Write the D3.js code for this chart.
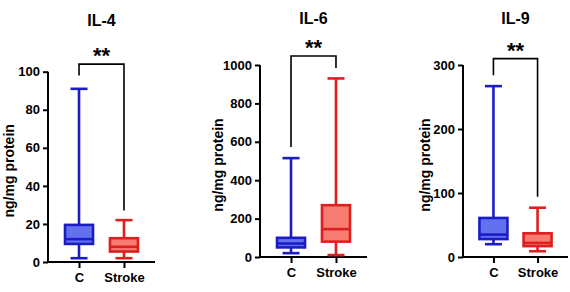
<!DOCTYPE html>
<html>
<head>
<meta charset="utf-8">
<title>IL box plots</title>
<script src="https://d3js.org/d3.v7.min.js"></script>
<style>
    body { margin: 0; background: #fff; }
    text { font-family: "Liberation Sans", Arial, sans-serif; font-weight: bold; fill: #000; }
    .axis path, .axis line { stroke: #000; stroke-width: 2px; }
    .axis text { font-size: 13px; }
</style>
</head>
<body>
<script>
    let width = 570;
    let height = 292;

    // categories and per-panel settings
    let groups = ["C", "Stroke"];
    let titles = ["IL-4", "IL-6", "IL-9"];
    let yMax = [100, 1000, 300];
    let yTicks = [
        [0, 20, 40, 60, 80, 100],
        [0, 200, 400, 600, 800, 1000],
        [0, 100, 200, 300]
    ];

    // box stats: [min, q1, median, q3, max] for C, Stroke
    let il4 = [[2, 9.5, 12, 19.5, 91], [2, 5.5, 8, 12.5, 22]];
    let il6 = [[20, 50, 70, 100, 515], [10, 80, 145, 270, 930]];
    let il9 = [[20, 28, 35, 61, 267], [9, 17, 22, 37, 77]];
    let stats = [il4, il6, il9];

    // significance bracket: [top, left leg end, right leg end]
    let brackets = [[104, 98, 27], [1047, 573, 984], [310, 284, 94]];
    let sigLabel = "**";

    // layout of each panel
    let axisX = [48, 260, 463];
    let axisLen = [107, 107, 105];
    let yTop = [71.7, 65, 65];
    let yZero = [262, 257, 257];
    let labelOffset = [39, 42, 38];

    let strokeColors = ["#1c1cc4", "#dc1f1f"];
    let fillColors = ["#6272ee", "#f87b72"];

    let svg = d3.select("body").append("svg")
        .attr("width", width)
        .attr("height", height);

    titles.forEach(function (title, p) {
        let g = svg.append("g");

        let x = d3.scalePoint()
            .domain(groups)
            .range([axisX[p], axisX[p] + axisLen[p]])
            .padding(0.69);

        let y = d3.scaleLinear()
            .domain([0, yMax[p]])
            .range([yZero[p], yTop[p]]);

        // axes
        g.append("g")
            .attr("class", "axis")
            .attr("transform", "translate(" + axisX[p] + ",0)")
            .call(d3.axisLeft(y).tickValues(yTicks[p]).tickFormat(d3.format("d"))
                .tickSizeOuter(0).tickSize(5).tickPadding(3))
            .call(a => a.select(".domain").attr("d", "M0," + yZero[p] + "V" + y(yMax[p])));

        g.append("g")
            .attr("class", "axis")
            .attr("transform", "translate(0," + yZero[p] + ")")
            .call(d3.axisBottom(x).tickSizeOuter(0).tickSize(6).tickPadding(5))
            .call(a => a.select(".domain").attr("d", "M" + axisX[p] + ",0H" + (axisX[p] + axisLen[p])));

        g.selectAll(".axis text").attr("fill", "#000");

        // box plots
        let boxW = 28;
        let capW = 17;
        stats[p].forEach(function (s, i) {
            let cx = x(groups[i]);
            let col = strokeColors[i];
            let b = g.append("g")
                .attr("stroke", col)
                .attr("stroke-width", 2.6)
                .attr("fill", "none");
            // whiskers
            b.append("line").attr("x1", cx).attr("x2", cx).attr("y1", y(s[3])).attr("y2", y(s[4]));
            b.append("line").attr("x1", cx).attr("x2", cx).attr("y1", y(s[1])).attr("y2", y(s[0]));
            // caps
            b.append("line").attr("x1", cx - capW / 2).attr("x2", cx + capW / 2).attr("y1", y(s[4])).attr("y2", y(s[4]));
            b.append("line").attr("x1", cx - capW / 2).attr("x2", cx + capW / 2).attr("y1", y(s[0])).attr("y2", y(s[0]));
            // box
            b.append("rect")
                .attr("x", cx - boxW / 2)
                .attr("width", boxW)
                .attr("y", y(s[3]))
                .attr("height", y(s[1]) - y(s[3]))
                .attr("fill", fillColors[i]);
            // median
            b.append("line").attr("x1", cx - boxW / 2).attr("x2", cx + boxW / 2).attr("y1", y(s[2])).attr("y2", y(s[2]));
        });

        // significance bracket
        let br = brackets[p];
        let x0 = x(groups[0]);
        let x1 = x(groups[1]);
        g.append("path")
            .attr("d", "M" + x0 + "," + y(br[1]) + "V" + y(br[0]) + "H" + x1 + "V" + y(br[2]))
            .attr("fill", "none")
            .attr("stroke", "#000")
            .attr("stroke-width", 1.6);

        g.append("text")
            .attr("x", (x0 + x1) / 2)
            .attr("y", y(br[0]) - 1)
            .attr("text-anchor", "middle")
            .style("font-size", "22px")
            .text(sigLabel);

        // title
        g.append("text")
            .attr("x", (x0 + x1) / 2)
            .attr("y", p === 0 ? 26 : 24)
            .attr("text-anchor", "middle")
            .style("font-size", "16px")
            .text(title);

        // y label
        g.append("text")
            .attr("transform", "translate(" + (axisX[p] - labelOffset[p] + 5) + "," + ((yZero[p] + yTop[p]) / 2 + 4) + ") rotate(-90)")
            .attr("text-anchor", "middle")
            .style("font-size", "14px")
            .text("ng/mg protein");
    });
</script>
</body>
</html>
